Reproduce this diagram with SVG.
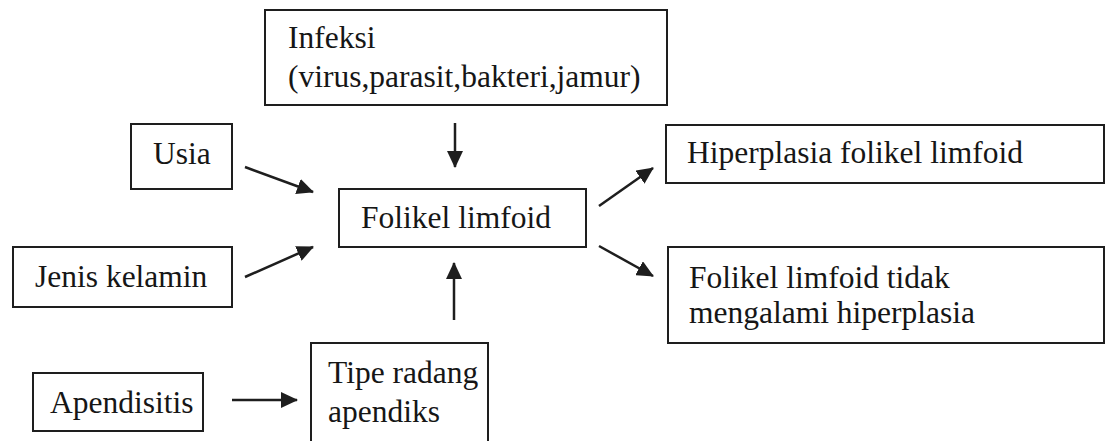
<svg xmlns="http://www.w3.org/2000/svg" width="1105" height="441" viewBox="0 0 1105 441">
<style>
.box{fill:#fff;stroke:#1e1e1e;stroke-width:2}
.t{font-family:'Liberation Serif','DejaVu Serif',serif;font-size:31.5px;fill:#161616}
.c{stroke:#1e1e1e;stroke-width:2.5;fill:none}
</style>
<defs>
<marker id="ah" viewBox="0 0 17 16" refX="16" refY="8" markerWidth="17" markerHeight="16" markerUnits="userSpaceOnUse" orient="auto">
<path d="M0,0 L17,8 L0,16 z" fill="#1e1e1e"/>
</marker>
</defs>
<rect width="1105" height="441" fill="#fff"/>
<g id="connectors">
<line class="c" x1="455" y1="123" x2="455" y2="167" marker-end="url(#ah)"/>
<line class="c" x1="245" y1="167" x2="313" y2="192" marker-end="url(#ah)"/>
<line class="c" x1="245" y1="277" x2="313" y2="247" marker-end="url(#ah)"/>
<line class="c" x1="454" y1="320" x2="454" y2="263" marker-end="url(#ah)"/>
<line class="c" x1="599" y1="206" x2="653" y2="168" marker-end="url(#ah)"/>
<line class="c" x1="599" y1="246" x2="653" y2="276" marker-end="url(#ah)"/>
<line class="c" x1="232" y1="400" x2="297" y2="400" marker-end="url(#ah)"/>
</g>
<g id="infeksi">
<rect class="box" x="265" y="10" width="402" height="95"/>
<text class="t" font-family="Liberation Serif" x="288" y="48">Infeksi</text>
<text class="t" font-family="Liberation Serif" x="288" y="87">(virus,parasit,bakteri,jamur)</text>
</g>
<g id="usia">
<rect class="box" x="131" y="124" width="101" height="65"/>
<text class="t" x="153" y="164">Usia</text>
</g>
<g id="jenis-kelamin">
<rect class="box" x="13" y="247" width="219" height="60"/>
<text class="t" x="35" y="287">Jenis kelamin</text>
</g>
<g id="folikel-limfoid">
<rect class="box" x="339" y="189" width="247" height="58"/>
<text class="t" x="361" y="228">Folikel limfoid</text>
</g>
<g id="hiperplasia">
<rect class="box" x="666" y="125" width="438" height="58"/>
<text class="t" x="687" y="163">Hiperplasia folikel limfoid</text>
</g>
<g id="tidak-hiperplasia">
<rect class="box" x="668" y="247" width="436" height="96"/>
<text class="t" x="689" y="288">Folikel limfoid tidak</text>
<text class="t" x="689" y="323">mengalami hiperplasia</text>
</g>
<g id="apendisitis">
<rect class="box" x="33" y="373" width="170" height="58"/>
<text class="t" x="50" y="413">Apendisitis</text>
</g>
<g id="tipe-radang">
<rect class="box" x="311" y="343" width="177" height="110"/>
<text class="t" x="328" y="383">Tipe radang</text>
<text class="t" x="328" y="422">apendiks</text>
</g>
</svg>
